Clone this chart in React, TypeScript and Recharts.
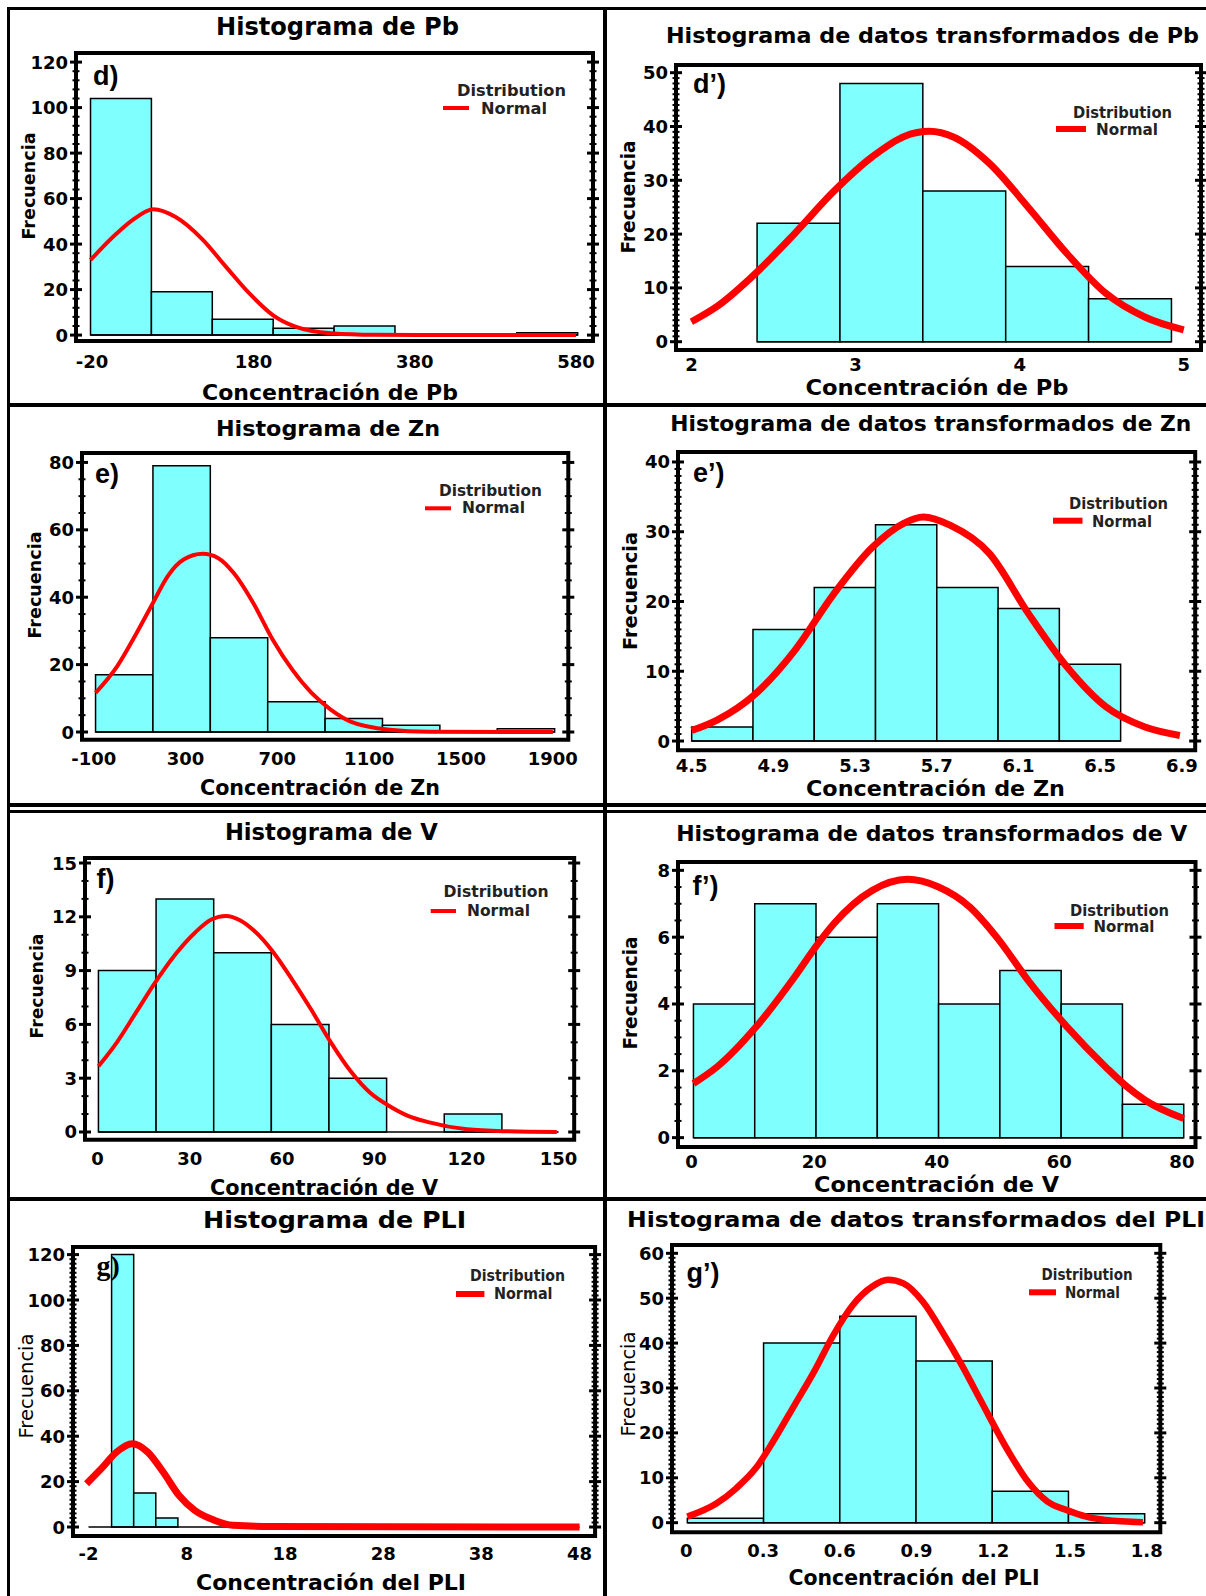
import React from "react"
import { ComposedChart, Line, XAxis, YAxis, ReferenceArea, ReferenceLine } from "recharts"

const SANS = "'DejaVu Sans', Verdana, sans-serif"
const LIB = "'Liberation Sans', Arial, sans-serif"
const SERIF = "'Liberation Serif', 'Times New Roman', serif"
const CYAN = "#80ffff"
const RED = "#ff0000"

// d) Pb
const pbEdges = [-22, 53.5, 129, 204.5, 280, 355.5, 431, 506.5, 582]
const pbCounts = [104, 19, 7, 3, 4, 0, 0, 1]
const pbCurve = [[-22, 33], [10, 44.5], [30, 50.5], [56, 55.3], [83, 52], [117, 42], [146, 30], [175, 18.3], [204, 8.8], [232, 3.7], [276, 0.8], [330, 0.1], [420, 0], [580, 0]]
const pbXTicks = [-20, 180, 380, 580]
const pbYTicks = [0, 20, 40, 60, 80, 100, 120]

// d') Pb transformed
const pbTEdges = [2.4, 2.905, 3.41, 3.915, 4.42, 4.925]
const pbTCounts = [22, 48, 28, 14, 8]
const pbTCurve = [[2.0, 3.7], [2.154, 6.5], [2.391, 12.7], [2.629, 20.1], [2.866, 27.9], [3.103, 34.4], [3.3, 38.2], [3.45, 39.1], [3.6, 38.0], [3.814, 33.2], [4.049, 25.1], [4.288, 16.4], [4.525, 9.0], [4.762, 4.6], [5.0, 2.2]]
const pbTXTicks = [2, 3, 4, 5]
const pbTYTicks = [0, 10, 20, 30, 40, 50]

// e) Zn
const znEdges = [-92, 158, 408, 658, 908, 1158, 1408, 1658, 1908]
const znCounts = [17, 79, 28, 9, 4, 2, 0, 1]
const znCurve = [[-92, 11.6], [2, 19.5], [87, 29.4], [158, 38.3], [222, 46.2], [290, 51.1], [375, 52.9], [443, 51.6], [510, 47.2], [595, 38.3], [680, 27.4], [765, 18.5], [849, 11.6], [934, 6.6], [1019, 3.1], [1188, 0.7], [1358, 0.1], [1900, 0]]
const znXTicks = [-100, 300, 700, 1100, 1500, 1900]
const znYTicks = [0, 20, 40, 60, 80]

// e') Zn transformed
const znTEdges = [4.5, 4.8, 5.1, 5.4, 5.7, 6.0, 6.3, 6.6]
const znTCounts = [2, 16, 22, 31, 22, 19, 11]
const znTCurve = [[4.5, 1.5], [4.624, 3.0], [4.814, 6.8], [5.005, 13.0], [5.196, 21.1], [5.386, 27.8], [5.538, 31.2], [5.634, 32.1], [5.767, 30.9], [5.957, 26.9], [6.148, 18.3], [6.338, 10.6], [6.528, 4.9], [6.719, 2.0], [6.89, 0.8]]
const znTXTicks = [4.5, 4.9, 5.3, 5.7, 6.1, 6.5, 6.9]
const znTYTicks = [0, 10, 20, 30, 40]

// f) V
const vEdges = [0.3, 19.05, 37.8, 56.55, 75.3, 94.05, 112.8, 131.55]
const vCounts = [9, 13, 10, 6, 3, 0, 1]
const vCurve = [[0.3, 3.66], [6.3, 5.0], [12.65, 6.7], [19, 8.4], [25.3, 9.9], [31.6, 11.1], [37, 11.85], [41.7, 12.05], [46.5, 11.8], [50.6, 11.28], [57, 10.07], [63.3, 8.5], [69.6, 6.8], [75.9, 5.0], [82.3, 3.4], [88.6, 2.2], [94.9, 1.45], [101, 0.9], [107.6, 0.55], [120.2, 0.15], [132.9, 0.04], [149.4, 0]]
const vXTicks = [0, 30, 60, 90, 120, 150]
const vYTicks = [0, 3, 6, 9, 12, 15]

// f') V transformed
const vTEdges = [0.3, 10.3, 20.3, 30.3, 40.3, 50.3, 60.3, 70.3, 80.3]
const vTCounts = [4, 7, 6, 7, 4, 5, 4, 1]
const vTCurve = [[0.3, 1.62], [4.1, 2.11], [10.5, 3.31], [16.8, 4.81], [20.6, 5.8], [23.2, 6.4], [29.5, 7.4], [35.2, 7.73], [40.3, 7.5], [45.4, 6.9], [50, 5.95], [54.9, 4.71], [61.3, 3.31], [67.6, 2.11], [70.8, 1.56], [74, 1.12], [80.3, 0.57]]
const vTXTicks = [0, 20, 40, 60, 80]
const vTYTicks = [0, 2, 4, 6, 8]

// g) PLI
const pliEdges = [0.35, 2.6, 4.85, 7.1]
const pliCounts = [120, 15, 4]
const pliCurve = [[-2.2, 19.1], [-0.7, 25.7], [0.85, 33], [2.44, 36.7], [4.03, 33], [5.6, 24.2], [7.2, 14], [8.8, 7.4], [10.8, 3], [12.7, 0.75], [16.7, 0.2], [48, 0]]
const pliXTicks = [-2, 8, 18, 28, 38, 48]
const pliYTicks = [0, 20, 40, 60, 80, 100, 120]

// g') PLI transformed
const pliTEdges = [0.004, 0.302, 0.6, 0.898, 1.196, 1.494, 1.792]
const pliTCounts = [1, 40, 46, 36, 7, 2]
const pliTCurve = [[0.004, 1.34], [0.119, 4.32], [0.195, 7.66], [0.271, 12.1], [0.347, 18.8], [0.423, 26.2], [0.499, 33.6], [0.575, 41.8], [0.651, 48.5], [0.727, 52.6], [0.788, 54.1], [0.849, 53.3], [0.925, 49.2], [1.001, 42.5], [1.077, 35.1], [1.153, 27], [1.26, 15.8], [1.336, 9.1], [1.412, 4.7], [1.488, 2.8], [1.564, 1.34], [1.64, 0.6], [1.785, 0.1]]
const pliTXTicks = [0, 0.3, 0.6, 0.9, 1.2, 1.5, 1.8]
const pliTYTicks = [0, 10, 20, 30, 40, 50, 60]

const panels: any[] = [
  {
    edges: pbEdges, counts: pbCounts, curve: pbCurve, base: [-22, 582], xTicks: pbXTicks, yTicks: pbYTicks, ySub: 5,
    frame: [76, 53, 593, 341], xDom: [-40, 601], yDom: [-2.6, 124], lw: 4, tickDy: 27,
    title: { text: "Histograma de Pb", x: 337.5, y: 35, size: 24, len: 243 },
    ylab: { x: 35, y: 186, size: 18, len: 107, bold: true },
    xlab: { text: "Concentración de Pb", x: 330, y: 400, size: 22, len: 256 },
    leg: { dx: 457, dy: 96, dlen: 109, lx1: 443, lx2: 469, ly: 108, lw: 4, nx: 481, ny: 114, nlen: 66, size: 15 },
    letter: { text: "d)", x: 93, y: 85, size: 27, family: LIB },
  },
  {
    edges: pbTEdges, counts: pbTCounts, curve: pbTCurve, base: [2.4, 4.925], xTicks: pbTXTicks, yTicks: pbTYTicks, ySub: 10,
    frame: [676, 65, 1201, 350], xDom: [1.906, 5.105], yDom: [-1.54, 51.43], lw: 7, tickDy: 21,
    title: { text: "Histograma de datos transformados de Pb", x: 932.5, y: 43, size: 21, len: 533 },
    ylab: { x: 635, y: 197, size: 19, len: 113, bold: true },
    xlab: { text: "Concentración de Pb", x: 937, y: 395, size: 21, len: 263 },
    leg: { dx: 1073, dy: 118, dlen: 99, lx1: 1056, lx2: 1086, ly: 129, lw: 6, nx: 1096, ny: 135, nlen: 62, size: 15 },
    letter: { text: "d’)", x: 693, y: 93, size: 27, family: LIB },
  },
  {
    edges: znEdges, counts: znCounts, curve: znCurve, base: [-92, 1908], xTicks: znXTicks, yTicks: znYTicks, ySub: 4,
    frame: [81.7, 453.3, 568, 740], xDom: [-151, 1967.5], yDom: [-2.28, 82.8], lw: 4, tickDy: 25,
    title: { text: "Histograma de Zn", x: 328, y: 436, size: 22, len: 224 },
    ylab: { x: 41, y: 585, size: 18, len: 107, bold: true },
    xlab: { text: "Concentración de Zn", x: 320, y: 795, size: 21, len: 240 },
    leg: { dx: 439, dy: 495.7, dlen: 103, lx1: 425, lx2: 451, ly: 508.3, lw: 4, nx: 462, ny: 513.3, nlen: 63, size: 15 },
    letter: { text: "e)", x: 95, y: 483, size: 27, family: LIB },
  },
  {
    edges: znTEdges, counts: znTCounts, curve: znTCurve, base: [4.5, 6.6], xTicks: znTXTicks, yTicks: znTYTicks, ySub: 10,
    frame: [677.8, 451.7, 1195, 750], xDom: [4.433, 6.965], yDom: [-1.33, 41.43], lw: 7, tickDy: 21.5,
    title: { text: "Histograma de datos transformados de Zn", x: 930.8, y: 431, size: 20.5, len: 521 },
    ylab: { x: 637, y: 591, size: 19, len: 118, bold: true },
    xlab: { text: "Concentración de Zn", x: 935.5, y: 796, size: 21, len: 259 },
    leg: { dx: 1069, dy: 509, dlen: 99, lx1: 1053, lx2: 1082.5, ly: 520.7, lw: 6, nx: 1092, ny: 526.7, nlen: 60, size: 15 },
    letter: { text: "e’)", x: 693, y: 481.7, size: 27, family: LIB },
  },
  {
    edges: vEdges, counts: vCounts, curve: vCurve, base: [0.3, 150], xTicks: vXTicks, yTicks: vYTicks, ySub: 3,
    frame: [84.8, 858.3, 574, 1140], xDom: [-4.07, 155.07], yDom: [-0.43, 15.28], lw: 4, tickDy: 25,
    title: { text: "Histograma de V", x: 331.4, y: 840, size: 22.5, len: 213 },
    ylab: { x: 43, y: 986, size: 18, len: 105, bold: true },
    xlab: { text: "Concentración de V", x: 324, y: 1195, size: 21, len: 228 },
    leg: { dx: 443.6, dy: 897.3, dlen: 105, lx1: 430.7, lx2: 456, ly: 911, lw: 4, nx: 467, ny: 915.7, nlen: 63, size: 15 },
    letter: { text: "f)", x: 96.5, y: 888, size: 27, family: LIB },
  },
  {
    edges: vTEdges, counts: vTCounts, curve: vTCurve, base: [0.3, 80.3], xTicks: vTXTicks, yTicks: vTYTicks, ySub: 4,
    frame: [677.8, 861.7, 1195.3, 1146.7], xDom: [-2.22, 82.22], yDom: [-0.28, 8.25], lw: 7, tickDy: 21,
    title: { text: "Histograma de datos transformados de V", x: 931.7, y: 840.7, size: 20.5, len: 511 },
    ylab: { x: 637, y: 993, size: 19, len: 113, bold: true },
    xlab: { text: "Concentración de V", x: 936.5, y: 1192, size: 21, len: 245 },
    leg: { dx: 1070, dy: 915.7, dlen: 99, lx1: 1054.5, lx2: 1083.7, ly: 926, lw: 6, nx: 1093.4, ny: 932.3, nlen: 61, size: 15 },
    letter: { text: "f’)", x: 692.6, y: 895, size: 27, family: LIB },
  },
  {
    edges: pliEdges, counts: pliCounts, curve: pliCurve, base: [-2, 48], xTicks: pliXTicks, yTicks: pliYTicks, ySub: 10,
    frame: [73.2, 1246.7, 595.3, 1535.7], xDom: [-3.58, 49.58], yDom: [-3.96, 123.35], lw: 7, tickDy: 24.3,
    title: { text: "Histograma de PLI", x: 334.6, y: 1228.3, size: 23.5, len: 263 },
    ylab: { x: 33, y: 1386, size: 19, len: 105, bold: false },
    xlab: { text: "Concentración del PLI", x: 331, y: 1590, size: 22, len: 270 },
    leg: { dx: 470, dy: 1281, dlen: 95, lx1: 456, lx2: 484.4, ly: 1294, lw: 6, nx: 494, ny: 1299.3, nlen: 58.5, size: 15 },
    letter: { text: "g)", x: 96.5, y: 1275, size: 28, family: SERIF },
  },
  {
    edges: pliTEdges, counts: pliTCounts, curve: pliTCurve, base: [0.004, 1.792], xTicks: pliTXTicks, yTicks: pliTYTicks, ySub: 10,
    frame: [672, 1245, 1160.3, 1532.3], xDom: [-0.056, 1.853], yDom: [-2.14, 61.85], lw: 6.5, tickDy: 24.4,
    title: { text: "Histograma de datos transformados del PLI", x: 916, y: 1226.7, size: 21.5, len: 578 },
    ylab: { x: 635, y: 1384, size: 19, len: 105, bold: false },
    xlab: { text: "Concentración del PLI", x: 914, y: 1585, size: 21, len: 251 },
    leg: { dx: 1041.6, dy: 1280, dlen: 91, lx1: 1029, lx2: 1056, ly: 1292.3, lw: 6, nx: 1065, ny: 1298.3, nlen: 55, size: 15 },
    letter: { text: "g’)", x: 686.4, y: 1282.3, size: 27, family: LIB },
  },
]

function withMinor(majors: number[], sub: number) {
  const out: number[] = []
  for (let i = 0; i < majors.length - 1; i++) {
    for (let k = 0; k < sub; k++) out.push(majors[i] + ((majors[i + 1] - majors[i]) * k) / sub)
  }
  out.push(majors[majors.length - 1])
  return out
}

function YTick(props: any) {
  const { x, y, payload, majors, showLabel } = props
  const v = payload.value
  const major = majors.some((m: number) => Math.abs(m - v) < 1e-9)
  const len = major ? 6 : 3.5
  return (
    <g>
      <line x1={x - len} x2={x + len} y1={y} y2={y} stroke="#000" strokeWidth={major ? 3 : 2} />
      {showLabel && major && (
        <text x={x - 8} y={y + 6.5} textAnchor="end" fontFamily={SANS} fontWeight="bold" fontSize={18} fill="#000">
          {v}
        </text>
      )}
    </g>
  )
}

function XTick(props: any) {
  const { x, y, payload, off } = props
  return (
    <text x={x} y={y + off} textAnchor="middle" fontFamily={SANS} fontWeight="bold" fontSize={18} fill="#000">
      {payload.value}
    </text>
  )
}

function HistPanel({ p }: { p: any }) {
  const [L, T, R, B] = p.frame
  const padL = 70, padT = 12, padR = 14, padB = 38
  const w = R - L + padL + padR
  const h = B - T + padT + padB
  const curve = p.curve.map(([x, y]: number[]) => ({ x, y }))
  const yAll = withMinor(p.yTicks, p.ySub)

  return (
    <div style={{ position: "absolute", left: L - padL, top: T - padT }}>
      <ComposedChart width={w} height={h} margin={{ left: padL - 1, top: padT, right: padR - 1, bottom: padB - 1 }}>
        <XAxis
          type="number" dataKey="x" domain={p.xDom} allowDataOverflow ticks={p.xTicks} interval={0}
          axisLine={false} tickLine={false} tickSize={0} tickMargin={0} height={1}
          tick={(t: any) => <XTick {...t} off={p.tickDy} />}
        />
        <YAxis
          type="number" domain={p.yDom} allowDataOverflow ticks={yAll} interval={0}
          axisLine={false} tickLine={false} tickSize={0} tickMargin={0} width={1}
          tick={(t: any) => <YTick {...t} majors={p.yTicks} showLabel />}
        />
        <YAxis
          yAxisId="r" orientation="right" type="number" domain={p.yDom} allowDataOverflow ticks={yAll} interval={0}
          axisLine={false} tickLine={false} tickSize={0} tickMargin={0} width={1}
          tick={(t: any) => <YTick {...t} majors={p.yTicks} />}
        />
        {p.counts.map((c: number, i: number) =>
          c > 0 ? (
            <ReferenceArea
              key={i} x1={p.edges[i]} x2={p.edges[i + 1]} y1={0} y2={c}
              fill={CYAN} fillOpacity={1} stroke="#000" strokeWidth={1.5} ifOverflow="visible"
            />
          ) : null
        )}
        <ReferenceLine segment={[{ x: p.base[0], y: 0 }, { x: p.base[1], y: 0 }]} stroke="#000" strokeWidth={1.5} />
        <Line
          data={curve} dataKey="y" type="monotone" stroke={RED} strokeWidth={p.lw}
          dot={false} activeDot={false} isAnimationActive={false}
        />
        <ReferenceArea
          x1={p.xDom[0]} x2={p.xDom[1]} y1={p.yDom[0]} y2={p.yDom[1]}
          fill="none" fillOpacity={0} stroke="#000" strokeWidth={4} ifOverflow="visible"
        />
      </ComposedChart>
    </div>
  )
}

function PanelText({ p }: { p: any }) {
  const { title, ylab, xlab, leg, letter } = p
  return (
    <g fill="#000">
      <text x={title.x} y={title.y} textAnchor="middle" fontFamily={SANS} fontWeight="bold" fontSize={title.size}
        textLength={title.len} lengthAdjust="spacingAndGlyphs">
        {title.text}
      </text>
      <text transform={`translate(${ylab.x},${ylab.y}) rotate(-90)`} textAnchor="middle" fontFamily={SANS}
        fontWeight={ylab.bold ? "bold" : "normal"} fontSize={ylab.size} textLength={ylab.len} lengthAdjust="spacingAndGlyphs">
        Frecuencia
      </text>
      <text x={xlab.x} y={xlab.y} textAnchor="middle" fontFamily={SANS} fontWeight="bold" fontSize={xlab.size}
        textLength={xlab.len} lengthAdjust="spacingAndGlyphs">
        {xlab.text}
      </text>
      <text x={leg.dx} y={leg.dy} fontFamily={SANS} fontWeight="bold" fontSize={leg.size} fill="#222"
        textLength={leg.dlen} lengthAdjust="spacingAndGlyphs">
        Distribution
      </text>
      <line x1={leg.lx1} x2={leg.lx2} y1={leg.ly} y2={leg.ly} stroke={RED} strokeWidth={leg.lw} />
      <text x={leg.nx} y={leg.ny} fontFamily={SANS} fontWeight="bold" fontSize={leg.size} fill="#222"
        textLength={leg.nlen} lengthAdjust="spacingAndGlyphs">
        Normal
      </text>
      <text x={letter.x} y={letter.y} fontFamily={letter.family} fontWeight="bold" fontSize={letter.size}>
        {letter.text}
      </text>
    </g>
  )
}

const lines = [
  { left: 7, top: 7, width: 3, height: 1600 },
  { left: 603, top: 7, width: 4, height: 1600 },
  { left: 7, top: 7, width: 1210, height: 3 },
  { left: 7, top: 403, width: 1210, height: 4 },
  { left: 7, top: 803, width: 1210, height: 4 },
  { left: 7, top: 810, width: 1210, height: 3 },
  { left: 7, top: 1197, width: 1210, height: 4 },
]

export default function App() {
  return (
    <div style={{ position: "absolute", left: 0, top: 0, width: 1206, height: 1596, background: "#fff", overflow: "hidden" }}>
      {lines.map((l, i) => (
        <div key={i} style={{ position: "absolute", background: "#000", ...l }} />
      ))}
      {panels.map((p, i) => (
        <HistPanel key={i} p={p} />
      ))}
      <svg width={1206} height={1596} style={{ position: "absolute", left: 0, top: 0, pointerEvents: "none" }}>
        {panels.map((p, i) => (
          <PanelText key={i} p={p} />
        ))}
      </svg>
    </div>
  )
}
